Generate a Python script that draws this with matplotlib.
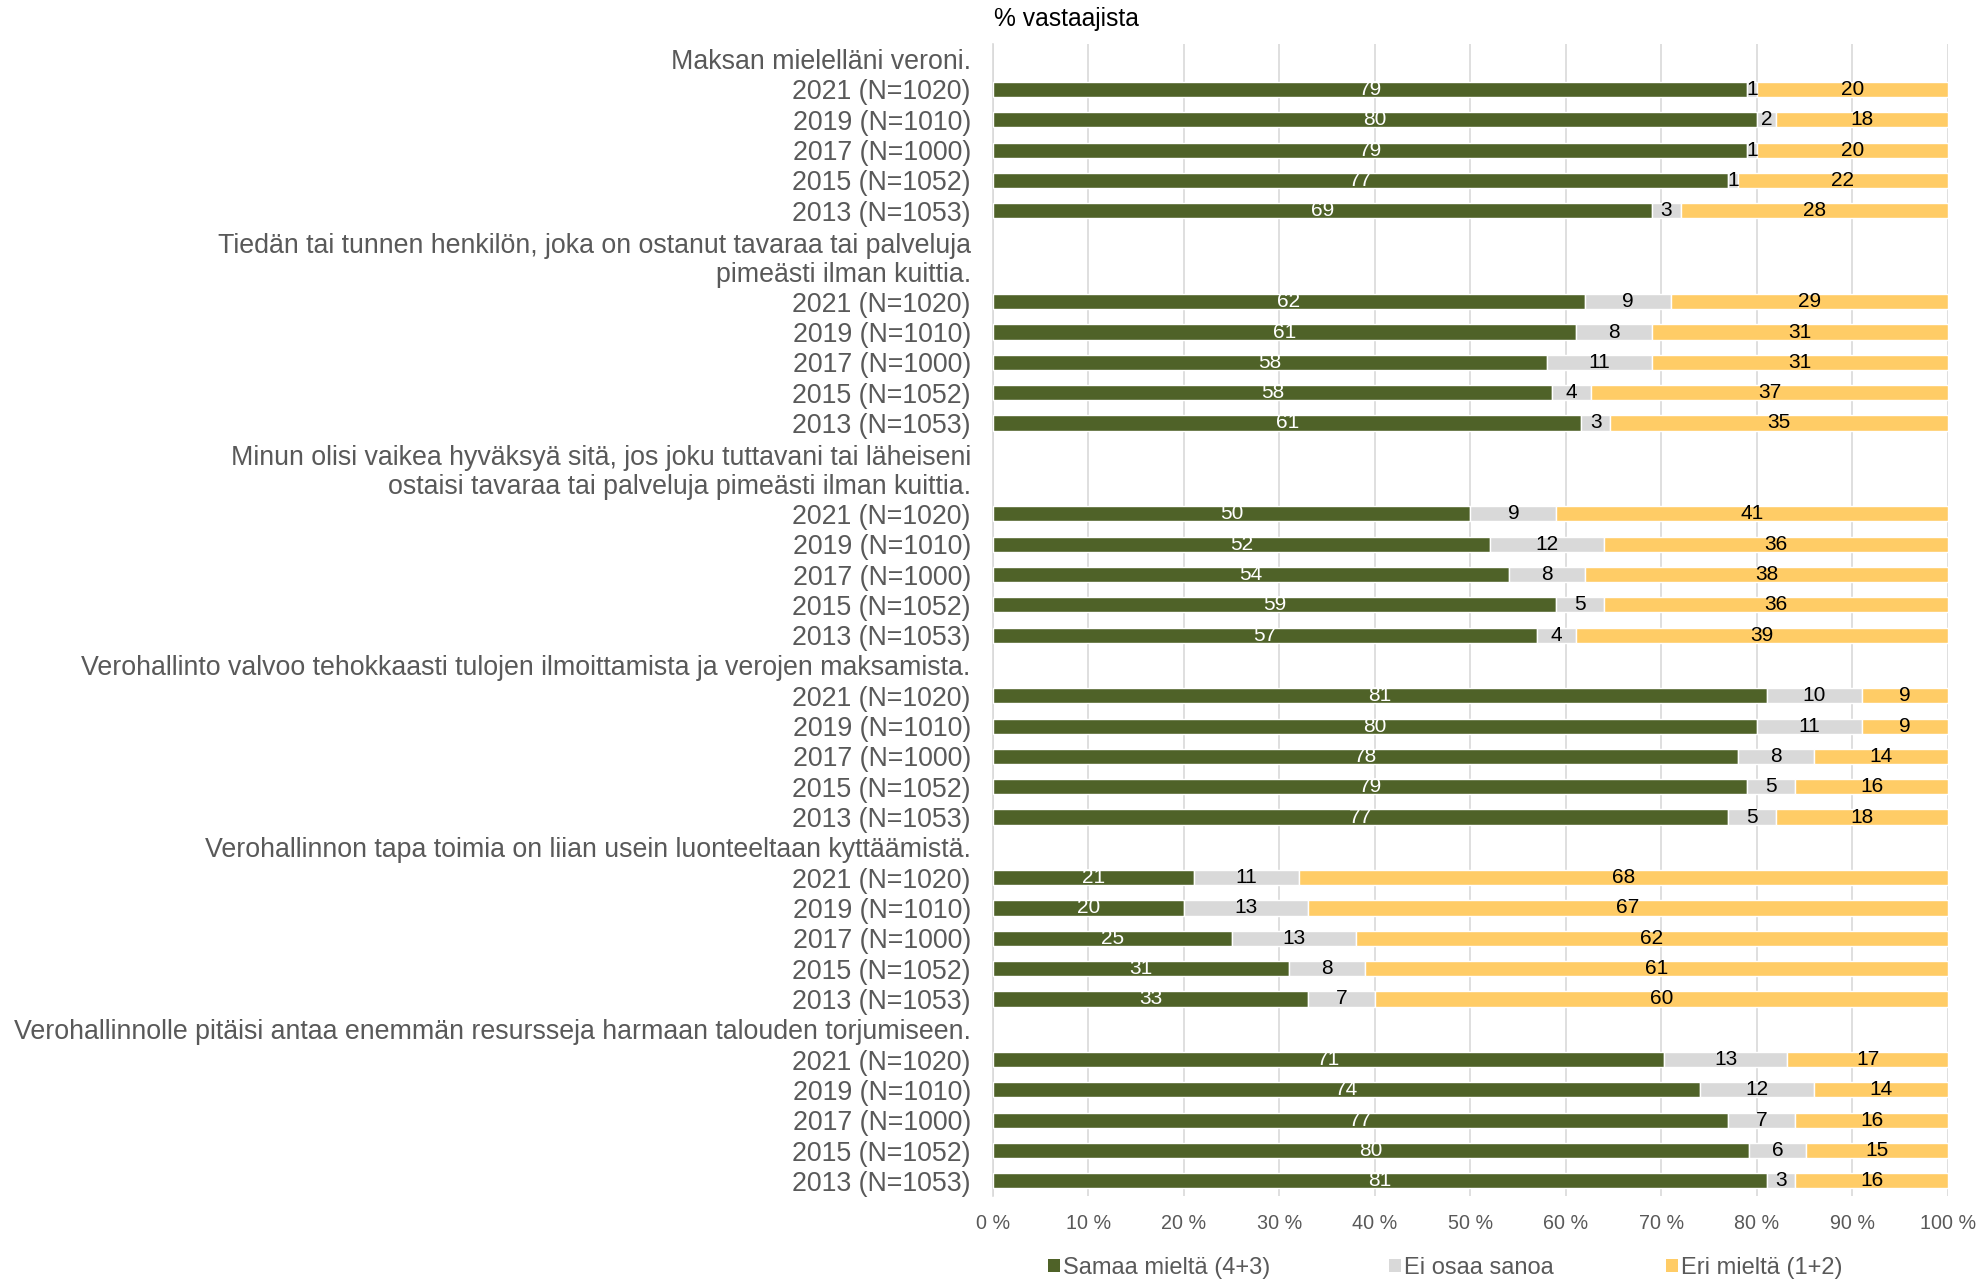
import matplotlib
matplotlib.use("Agg")
import matplotlib.pyplot as plt
from matplotlib.patches import Patch

plt.rcParams['font.family'] = ['Liberation Sans', 'DejaVu Sans']

# survey statements (header rows) and the years asked
questions = [
    "Maksan mielelläni veroni.",
    "Tiedän tai tunnen henkilön, joka on ostanut tavaraa tai palveluja\npimeästi ilman kuittia.",
    "Minun olisi vaikea hyväksyä sitä, jos joku tuttavani tai läheiseni\nostaisi tavaraa tai palveluja pimeästi ilman kuittia.",
    "Verohallinto valvoo tehokkaasti tulojen ilmoittamista ja verojen maksamista.",
    "Verohallinnon tapa toimia on liian usein luonteeltaan kyttäämistä.",
    "Verohallinnolle pitäisi antaa enemmän resursseja harmaan talouden torjumiseen.",
]
years = ["2021 (N=1020)", "2019 (N=1010)", "2017 (N=1000)", "2015 (N=1052)", "2013 (N=1053)"]

series_names = ["Samaa mieltä (4+3)", "Ei osaa sanoa", "Eri mieltä (1+2)"]
agree = [[79, 80, 79, 77, 69], [62, 61, 58, 58, 61], [50, 52, 54, 59, 57],
         [81, 80, 78, 79, 77], [21, 20, 25, 31, 33], [71, 74, 77, 80, 81]]
dont_know = [[1, 2, 1, 1, 3], [9, 8, 11, 4, 3], [9, 12, 8, 5, 4],
             [10, 11, 8, 5, 5], [11, 13, 13, 8, 7], [13, 12, 7, 6, 3]]
disagree = [[20, 18, 20, 22, 28], [29, 31, 31, 37, 35], [41, 36, 38, 36, 39],
            [9, 9, 14, 16, 18], [68, 67, 62, 61, 60], [17, 14, 16, 15, 16]]
x_ticklabels = ["0 %", "10 %", "20 %", "30 %", "40 %", "50 %", "60 %", "70 %", "80 %", "90 %", "100 %"]

colors = ["#4F6228", "#D9D9D9", "#FFCC66"]
label_colors = ["white", "black", "black"]
text_gray = "#595959"

W, H = 1983, 1282
fig = plt.figure(figsize=(W / 100, H / 100), dpi=100)
ax = fig.add_axes([993 / W, 1 - 1196 / H, (1948 - 993) / W, (1196 - 44) / H])

# work out row positions: a header takes one slot per text line
ytick_pos = []
ytick_lab = []
slot = 0
for qi, q in enumerate(questions):
    nlines = q.count("\n") + 1
    ytick_pos.append(slot + (nlines - 1) / 2)
    ytick_lab.append(q)
    slot += nlines
    for yi, yr in enumerate(years):
        vals = [agree[qi][yi], dont_know[qi][yi], disagree[qi][yi]]
        total = sum(vals)
        left = 0
        for si, v in enumerate(vals):
            w = v / total * 100
            ax.barh(slot, w, left=left, height=0.5, color=colors[si],
                    edgecolor="white", linewidth=1, zorder=3)
            if v > 0:
                ax.text(left + w / 2, slot, str(v), ha="center", va="center",
                        fontsize=15, color=label_colors[si], zorder=4)
            left += w
        ytick_pos.append(slot)
        ytick_lab.append(yr)
        slot += 1

ax.set_ylim(slot - 0.5, -0.5)
ax.set_xlim(0, 100)
ax.set_yticks(ytick_pos)
ax.set_yticklabels(ytick_lab, fontsize=19.3, color=text_gray, linespacing=1.13)
ax.set_xticks(range(0, 101, 10))
ax.set_xticklabels(x_ticklabels, fontsize=14.2, color=text_gray)
ax.tick_params(axis="y", length=0, pad=16)
ax.tick_params(axis="x", length=0, pad=13)

ax.grid(axis="x", color="#D9D9D9", linewidth=1.2, zorder=0)
for s in ["top", "right", "bottom"]:
    ax.spines[s].set_visible(False)
ax.spines["left"].set_color("#D9D9D9")
ax.spines["left"].set_linewidth(1.2)

fig.text(994 / W, 1 - 19 / H, "% vastaajista", ha="left", va="center",
         fontsize=17.7, color="black")

# legend, one entry at a time like the original spacing
leg_x = [1048, 1389, 1666]
for i, name in enumerate(series_names):
    leg = fig.legend(handles=[Patch(facecolor=colors[i], edgecolor="none")],
                     labels=[name], loc="center left",
                     bbox_to_anchor=(leg_x[i] / W, 1 - 1268 / H),
                     frameon=False, fontsize=17, borderpad=0, borderaxespad=0,
                     handlelength=0.5, handleheight=0.5, handletextpad=0.15)
    for t in leg.get_texts():
        t.set_color(text_gray)

fig.savefig("out.png", dpi=100)
